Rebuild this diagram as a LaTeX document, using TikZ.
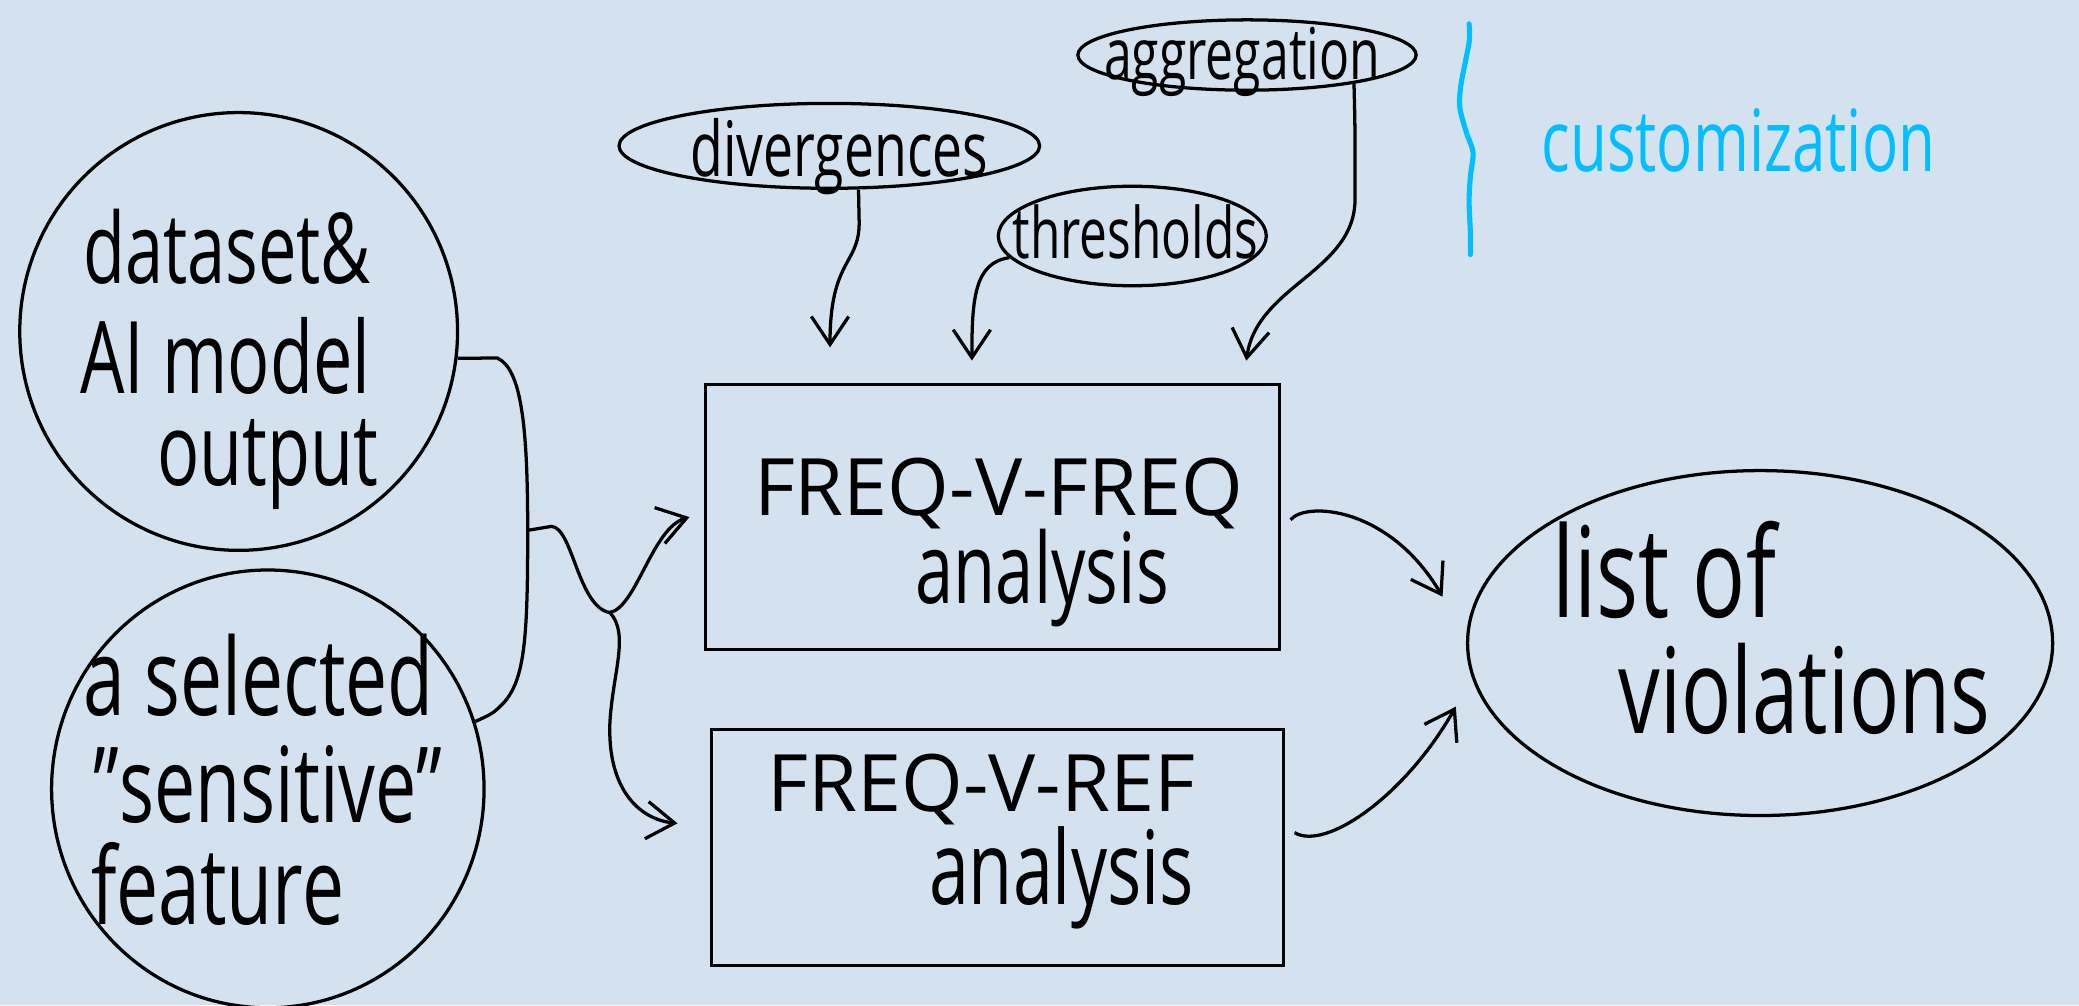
\documentclass[tikz,border=0pt]{standalone}
\usepackage{fontspec}
\setmainfont[FakeStretch=0.7]{Open Sans}
\newfontfamily\capsfont{Open Sans}
\usetikzlibrary{shapes.geometric,arrows.meta,calc}
\definecolor{bgblue}{RGB}{212,226,240}
\definecolor{custblue}{RGB}{0,190,255}
\tikzset{
  ink/.style={line width=0.7pt, draw=black},
  blob/.style={ellipse, ink, inner sep=0pt},
  stagebox/.style={rectangle, ink, inner sep=0pt},
  flow/.style={line width=0.7pt, -{Straight Barb[length=6pt,width=8pt]}},
  hand/.style={inner sep=0pt, anchor=base west},
}
\newcommand{\fsz}[1]{\fontsize{#1}{#1}\selectfont}
\begin{document}
\begin{tikzpicture}[x=0.01cm,y=-0.01cm]
\fill[bgblue] (0,0) rectangle (1568,758);
\useasboundingbox (0,0) rectangle (1568,758);

% inputs
\node[blob, minimum width=3.3cm, minimum height=3.3cm] (data) at (180,250) {};
\node[blob, minimum width=3.26cm, minimum height=3.3cm] (feat) at (202,595) {};
\node[hand, font=\fsz{21}] (data1) at (62,214) {dataset\&};
\node[hand, font=\fsz{21.5}] (data2) at (60,297) {AI model};
\node[hand, font=\fsz{21.5}] (data3) at (118,366) {output};
\node[hand, font=\fsz{23}] (feat1) at (62,540) {a selected};
\node[hand, font=\fsz{22.5}] (feat2) at (70,620) {"sensitive"};
\node[hand, font=\fsz{23}] (feat3) at (68,697) {feature};

% customization options
\node[blob, minimum width=3.17cm, minimum height=0.64cm] (div) at (625.5,110) {};
\node[blob, minimum width=2.55cm, minimum height=0.53cm] (agg) at (940.5,41.5) {};
\node[blob, minimum width=2.02cm, minimum height=0.75cm] (thr) at (854,178) {};
\node[hand, font=\fsz{16.4}] (divt) at (520,133) {divergences};
\node[hand, font=\fsz{15.3}] (aggt) at (832,60) {aggregation};
\node[hand, font=\fsz{15.2}] (thrt) at (763,195) {thresholds};

% customization bracket
\draw[custblue, line width=1.1pt, line cap=round] plot[smooth] coordinates
  {(1108,18) (1108,32) (1102,63) (1101,81) (1106,100) (1111,115) (1109,133) (1108,152) (1109,176) (1109,192)};
\node[hand, font=\fsz{18.4}, text=custblue] (cust) at (1162,129) {customization};

% analyses
\node[stagebox, minimum width=4.33cm, minimum height=2.0cm] (fa) at (748.5,390) {};
\node[stagebox, minimum width=4.31cm, minimum height=1.78cm] (fr) at (752.5,639) {};
\node[hand, font={\capsfont\fsz{17}}] (fat1) at (568,389) {FREQ-V-FREQ};
\node[hand, font=\fsz{21}] (fat2) at (690,455) {analysis};
\node[hand, font={\capsfont\fsz{17}}] (frt1) at (578,612) {FREQ-V-REF};
\node[hand, font=\fsz{22}] (frt2) at (700,682) {analysis};

% result
\node[blob, minimum width=4.41cm, minimum height=2.6cm] (res) at (1327.5,485) {};
\node[hand, font=\fsz{27}] (rest1) at (1170,466) {list of};
\node[hand, font=\fsz{25.5}] (rest2) at (1220,553) {violations};

% free ends of the connectors
\coordinate (divin) at (626,262);
\coordinate (thrin) at (733,272);
\coordinate (aggin) at (940,272);
\coordinate (jn) at (398,400);
\coordinate (split) at (460,462);
\coordinate (fain) at (520,390);
\coordinate (frin) at (511,621);
\coordinate (resin1) at (1088,450);
\coordinate (resin2) at (1098,533);

% customization arrows
\draw[flow] ($(div.south)+(22,0)$) -- (648,168) .. controls (648,200) and (626,195) .. (divin);
\draw[flow] (thr.190) .. controls (735,198) and (733,225) .. (thrin);
\draw[flow] (agg.-15) .. controls (1022,95) .. (1022,150) .. controls (1022,205) and (948,215) .. (aggin);

% inputs joined and split to both analyses
\draw[line width=0.7pt] (data.-7) -- (375,270) .. controls (393,278) and (398,320) .. (jn)
  .. controls (398,480) and (396,512) .. (380,530) .. controls (372,538) .. (feat.18);
\draw[line width=0.7pt] (jn) -- (416,397) .. controls (432,398) and (436,458) .. (split);
\draw[flow] (split) .. controls (480,458) and (492,398) .. (fain);
\draw[flow] (split) .. controls (475,478) and (462,508) .. (460,545)
  .. controls (458,595) and (482,618) .. (frin);

% analyses to result
\draw[flow] ($(fa.east)+(7,2)$) .. controls (985,378) and (1048,382) .. (resin1);
\draw[flow] ($(fr.east)+(7,-11)$) .. controls (1000,642) and (1060,600) .. (resin2);
\end{tikzpicture}
\end{document}
